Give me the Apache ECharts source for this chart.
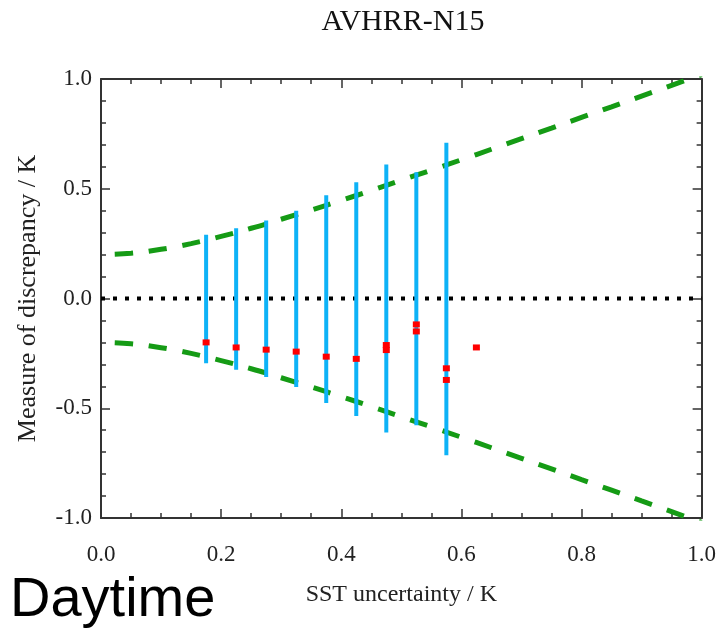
<!DOCTYPE html>
<html>
<head>
<meta charset="utf-8">
<script src="https://cdn.jsdelivr.net/npm/echarts@6/dist/echarts.min.js"></script>
<style>
  html, body { margin: 0; padding: 0; background: #fff; }
  #chart { width: 719px; height: 633px; }
</style>
</head>
<body>
<div id="chart"></div>
<script>
// Text
const chartTitle = 'AVHRR-N15';
const panelLabel = 'Daytime';
const xName = 'SST uncertainty / K';
const yName = 'Measure of discrepancy / K';

// Uncertainty bins (centres) with the expected spread of the discrepancy
const binX = [0.175, 0.225, 0.275, 0.325, 0.375, 0.425, 0.475, 0.525, 0.575];
const barUpper = [0.29, 0.32, 0.355, 0.40, 0.47, 0.53, 0.61, 0.575, 0.71];
const barLower = [-0.295, -0.325, -0.358, -0.403, -0.476, -0.535, -0.61, -0.577, -0.714];

// Mean discrepancy per bin (some bins carry two points)
const pointX = [0.175, 0.225, 0.275, 0.325, 0.375, 0.425, 0.475, 0.475, 0.525, 0.525, 0.575, 0.575, 0.625];
const pointY = [-0.20, -0.223, -0.233, -0.242, -0.265, -0.275, -0.212, -0.235, -0.118, -0.15, -0.318, -0.371, -0.223];

// Envelope curves
const envX = [0, 0.05, 0.1, 0.15, 0.2, 0.25, 0.3, 0.35, 0.4, 0.45, 0.5,
              0.55, 0.6, 0.65, 0.7, 0.75, 0.8, 0.85, 0.9, 0.95, 1.0];
const envUpper = [0.200, 0.206, 0.224, 0.250, 0.283, 0.320, 0.361, 0.403, 0.447, 0.492, 0.539,
                  0.585, 0.632, 0.680, 0.728, 0.776, 0.825, 0.873, 0.922, 0.971, 1.02];
const envLower = [-0.200, -0.206, -0.224, -0.250, -0.283, -0.320, -0.361, -0.403, -0.447, -0.492, -0.539,
                  -0.585, -0.632, -0.680, -0.728, -0.776, -0.825, -0.873, -0.922, -0.971, -1.02];

// Zero reference line
const zeroX = [0, 1];
const zeroY = [0, 0];

// Axis ranges and tick spacing
const xMin = 0, xMax = 1, xStep = 0.2;
const yMin = -1, yMax = 1, yStep = 0.5;

const serif = '"Liberation Serif", "DejaVu Serif", serif';
const frameColor = '#333';

function frameAxis(extra) {
  return Object.assign({
    type: 'value',
    axisLine: { show: true, onZero: false, lineStyle: { color: frameColor, width: 2 } },
    axisTick: { show: true, inside: true, length: 9, lineStyle: { color: frameColor, width: 1.5 } },
    splitLine: { show: false },
    minorSplitLine: { show: false }
  }, extra);
}

function minor(n) {
  return { show: true, splitNumber: n, length: 5, lineStyle: { color: frameColor, width: 1.5 } };
}

const chart = echarts.init(document.getElementById('chart'));

chart.setOption({
  animation: false,
  backgroundColor: '#fff',
  grid: { left: 101, right: 15, top: 79, bottom: 115 },
  xAxis: [
    frameAxis({
      position: 'bottom', min: xMin, max: xMax, interval: xStep,
      minorTick: minor(4),
      axisLabel: { margin: 25, fontFamily: serif, fontSize: 23, color: '#222', formatter: v => v.toFixed(1) },
      name: xName, nameLocation: 'middle', nameGap: 65,
      nameTextStyle: { fontFamily: serif, fontSize: 24, color: '#222' }
    }),
    frameAxis({
      position: 'top', min: xMin, max: xMax, interval: xStep,
      minorTick: minor(4),
      axisLabel: { show: false }
    })
  ],
  yAxis: [
    frameAxis({
      position: 'left', min: yMin, max: yMax, interval: yStep,
      minorTick: minor(5),
      axisLabel: { margin: 9, fontFamily: serif, fontSize: 23, color: '#222', formatter: v => v.toFixed(1) },
      name: yName, nameLocation: 'middle', nameGap: 60,
      nameTextStyle: { fontFamily: serif, fontSize: 26, color: '#222' }
    }),
    frameAxis({
      position: 'right', min: yMin, max: yMax, interval: yStep,
      minorTick: minor(5),
      axisLabel: { show: false }
    })
  ],
  graphic: [
    {
      type: 'text', x: 403, y: 22,
      style: { text: chartTitle, fontFamily: serif, fontSize: 30, fill: '#111', textAlign: 'center', textVerticalAlign: 'middle' }
    },
    {
      type: 'text', x: 10, y: 601,
      style: { text: panelLabel, fontFamily: '"Liberation Sans", Arial, sans-serif', fontSize: 56, fill: '#000', textAlign: 'left', textVerticalAlign: 'middle' }
    }
  ],
  series: [
    {
      type: 'line', name: 'zero',
      data: zeroX.map((x, i) => [x, zeroY[i]]),
      symbol: 'none', silent: true, clip: true,
      lineStyle: { color: '#000', width: 4, type: [4, 8], cap: 'butt' },
      z: 1
    },
    {
      type: 'line', name: 'upper envelope',
      data: envX.map((x, i) => [x, envUpper[i]]),
      smooth: true, symbol: 'none', silent: true, clip: true,
      lineStyle: { color: '#159b15', width: 5, type: [18, 16], dashOffset: 20, cap: 'butt' },
      z: 2
    },
    {
      type: 'line', name: 'lower envelope',
      data: envX.map((x, i) => [x, envLower[i]]),
      smooth: true, symbol: 'none', silent: true, clip: true,
      lineStyle: { color: '#159b15', width: 5, type: [18, 16], dashOffset: 20, cap: 'butt' },
      z: 2
    },
    {
      type: 'custom', name: 'spread',
      data: binX.map((x, i) => [x, barUpper[i], barLower[i]]),
      encode: { x: 0, y: [1, 2] },
      renderItem: function (params, api) {
        const top = api.coord([api.value(0), api.value(1)]);
        const bot = api.coord([api.value(0), api.value(2)]);
        return {
          type: 'line',
          shape: { x1: top[0], y1: top[1], x2: bot[0], y2: bot[1] },
          style: { stroke: '#0db2f7', lineWidth: 4 }
        };
      },
      z: 3
    },
    {
      type: 'scatter', name: 'mean',
      data: pointX.map((x, i) => [x, pointY[i]]),
      symbol: 'rect', symbolSize: [7, 6],
      itemStyle: { color: '#ff0000', opacity: 1 },
      z: 4
    }
  ]
});
</script>
</body>
</html>
